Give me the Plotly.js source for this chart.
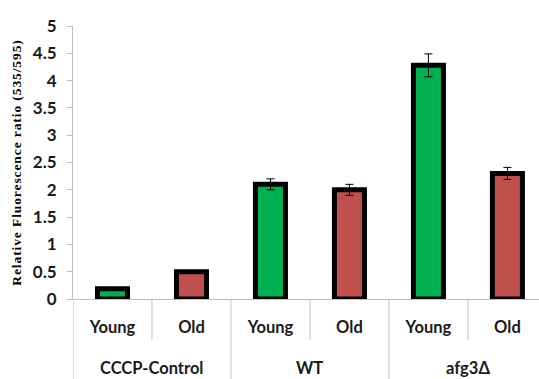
<!DOCTYPE html>
<html>
<head>
<meta charset="utf-8">
<script src="https://cdn.plot.ly/plotly-3.0.1.min.js"></script>
<style>html,body{margin:0;padding:0;background:#fff;}#chart{width:539px;height:379px;}
.ytitle{letter-spacing:0.9px;}</style>
</head>
<body>
<div id="chart"></div>
<script>
const groups = ["CCCP-Control", "CCCP-Control", "WT", "WT", "afg3Δ", "afg3Δ"];
const groupNames = ["CCCP-Control", "WT", "afg3Δ"];
const ages = ["Young", "Old", "Young", "Old", "Young", "Old"];
const values = [0.19, 0.5, 2.1, 2.0, 4.28, 2.3];
const errors = [0, 0, 0.1, 0.1, 0.21, 0.11];
const yTicks = [0, 0.5, 1, 1.5, 2, 2.5, 3, 3.5, 4, 4.5, 5];
const colorByAge = {Young: "#00B050", Old: "#C0504D"};

const idx = ages.map((_, i) => i);
const gray = "#BFBFBF";
const labelFont = {family: "Lato, 'Open Sans', sans-serif", size: 16.5, color: "#1a1a1a", weight: "bold"};

const trace = {
  type: "bar",
  x: idx,
  y: values,
  width: 0.38,
  marker: {color: ages.map(a => colorByAge[a]), line: {color: "#000", width: 5}},
  error_y: {type: "data", array: errors, visible: true, color: "#000", thickness: 1, width: 4},
  hoverinfo: "none"
};

const shapes = [];
for (let i = 0; i <= ages.length; i++) {
  const b = i - 0.5;
  const isGroup = i === 0 || i === ages.length || groups[i] !== groups[i - 1];
  shapes.push({type: "line", xref: "x", yref: "paper", x0: b, x1: b, y0: 0,
    y1: isGroup ? -0.3 : -0.15, line: {color: gray, width: 1}});
}
const annotations = groupNames.map(g => {
  const members = idx.filter(i => groups[i] === g);
  const c = (members[0] + members[members.length - 1]) / 2;
  return {x: c, xref: "x", y: -0.253, yref: "paper", yanchor: "middle", text: g,
    showarrow: false, font: labelFont};
});

const layout = {
  width: 539, height: 379,
  margin: {l: 73, r: 0, t: 26, b: 80},
  paper_bgcolor: "#fff", plot_bgcolor: "#fff",
  showlegend: false,
  xaxis: {
    range: [-0.5, 5.4], tickvals: idx, ticktext: ages, ticks: "",
    showline: true, linecolor: gray, linewidth: 1, showgrid: false, zeroline: false,
    tickfont: labelFont, ticklabelstandoff: 13, fixedrange: true
  },
  yaxis: {
    range: [0, 5], tickvals: yTicks, ticktext: yTicks.map(String),
    ticks: "outside", ticklen: 5, tickcolor: gray, showline: true, linecolor: gray, linewidth: 1,
    showgrid: false, zeroline: false, ticklabelstandoff: 7,
    tickfont: {family: "Lato, 'Open Sans', sans-serif", size: 17, color: "#1a1a1a", weight: "bold"},
    title: {text: "Relative Fluorescence ratio (535/595)", standoff: 8,
      font: {family: "'Liberation Serif', 'Times New Roman', serif", size: 13.5, color: "#000", weight: "bold"}},
    fixedrange: true
  },
  shapes: shapes,
  annotations: annotations
};

Plotly.newPlot("chart", [trace], layout, {displayModeBar: false, staticPlot: true});
</script>
</body>
</html>
